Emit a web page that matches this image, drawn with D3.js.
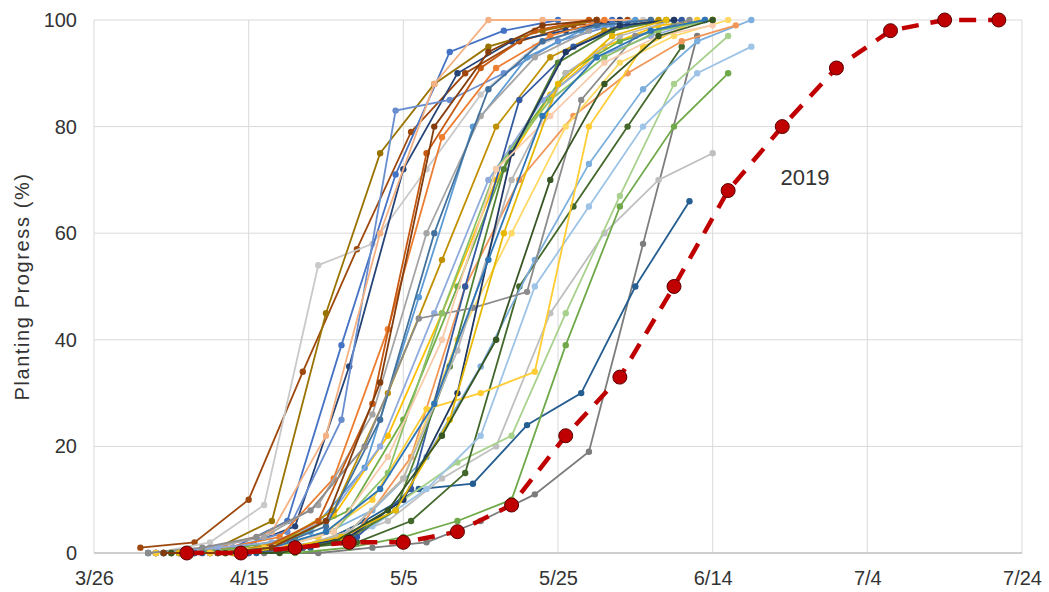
<!DOCTYPE html>
<html>
<head>
<meta charset="utf-8">
<script src="https://cdn.jsdelivr.net/npm/d3@7"></script>
<style>
  body { margin: 0; background: #fff; }
  svg { display: block; font-family: "Liberation Sans", Arial, sans-serif; }
  .grid line { stroke: #d9d9d9; stroke-width: 1; }
</style>
</head>
<body>
<div id="chart"></div>
<script>
// x axis tick labels (every 20 days)
const xTicks = ['3/26', '4/15', '5/5', '5/25', '6/14', '7/4', '7/24'];
const yTicks = [0, 20, 40, 60, 80, 100];

// past years: first report date and weekly planting progress (%)
const pastStart = [
  '4/1', '4/3', '4/4', '4/7', '4/6', '4/6', '4/4', '4/5', '4/5', '4/2',
  '4/7', '4/3', '4/3', '4/2', '4/5', '4/7', '4/7', '4/8', '4/3', '4/3',
  '4/4', '4/8', '4/7', '4/5', '4/4', '4/3', '4/8', '4/6', '4/3', '4/2',
  '4/5', '4/7', '4/7', '4/5', '4/6', '4/4', '4/5', '4/4'
];
const pastValues = [
  [1, 2, 10, 34, 57, 79, 90, 96, 99, 100],
  [0, 2, 9, 54, 58, 72, 86, 95, 99, 100],
  [0, 1, 6, 45, 75, 88, 95, 98, 100],
  [0, 1, 5, 35, 72, 90, 96, 98, 100],
  [0, 1, 6, 39, 71, 94, 98, 100, 100],
  [0, 1, 4, 25, 83, 85, 90, 96, 99],
  [0, 1, 4, 22, 60, 88, 100, 100, 100, 100],
  [0, 1, 3, 14, 42, 78, 91, 97, 100],
  [0, 0, 2, 7, 22, 45, 70, 86, 95, 99, 100],
  [0, 0, 1, 4, 16, 48, 80, 93, 98, 100],
  [0, 1, 3, 8, 25, 50, 76, 90, 96, 99],
  [0, 1, 3, 9, 26, 60, 82, 93, 98],
  [0, 0, 0, 0, 1, 2, 6, 11, 19, 58, 97],
  [0, 0, 0, 1, 6, 12, 13, 24, 30, 50, 66],
  [0, 0, 1, 2, 6, 14, 20, 45, 60, 70, 75],
  [0, 0, 0, 1, 3, 6, 10, 39, 65, 80, 90],
  [0, 0, 1, 3, 10, 17, 22, 45, 67, 88, 97],
  [0, 0, 1, 2, 6, 15, 50, 65, 80, 95],
  [0, 0, 1, 2, 5, 12, 22, 50, 65, 80, 90, 95],
  [0, 0, 1, 3, 8, 18, 35, 55, 73, 87, 96, 100],
  [0, 1, 2, 6, 20, 45, 70, 85, 93, 97, 100],
  [0, 0, 1, 4, 18, 50, 70, 82, 90, 96, 99],
  [0, 0, 1, 4, 14, 40, 60, 80, 92, 97, 100],
  [0, 0, 2, 8, 30, 55, 80, 93, 98, 100],
  [0, 0, 1, 5, 25, 60, 87, 96, 99, 100],
  [0, 0, 1, 6, 28, 75, 91, 98, 100],
  [0, 0, 1, 3, 12, 50, 85, 95, 99, 100],
  [0, 0, 1, 2, 8, 35, 72, 92, 98, 100],
  [0, 0, 1, 3, 10, 27, 30, 34, 80, 95, 100],
  [0, 1, 3, 8, 20, 44, 46, 49, 85, 97, 100],
  [0, 0, 1, 4, 15, 45, 72, 85, 93, 98, 100],
  [0, 0, 1, 4, 14, 38, 70, 90, 97, 100],
  [0, 0, 1, 3, 10, 30, 75, 94, 99, 100],
  [0, 0, 1, 4, 18, 40, 72, 82, 92, 97, 99],
  [0, 0, 1, 3, 8, 25, 60, 88, 97, 100],
  [0, 0, 1, 4, 12, 28, 55, 82, 93, 98, 100],
  [0, 0, 0, 2, 8, 22, 40, 70, 88, 97, 100],
  [0, 0, 1, 6, 32, 80, 94, 99, 100]
];
const pastColors = [
  '#9e480e', '#c9c9c9', '#997300', '#264478', '#4472c4', '#698ed0', '#f4b183', '#ed7d31', '#ffc000', '#5b9bd5',
  '#70ad47', '#a5a5a5', '#7c7c7c', '#255e91', '#bfbfbf', '#6fa94a', '#a9d18e', '#43682b', '#9dc3e6', '#7cafdd',
  '#8faadc', '#f1975a', '#ffd966', '#bf9000', '#41719c', '#c65911', '#335aa1', '#548235', '#ffcd33', '#8c8c8c',
  '#8cc168', '#b7b7b7', '#203864', '#f8cbad', '#e6b800', '#2e75b6', '#375623', '#843c0c'
];

// 2019
const start2019 = '4/7';
const values2019 = [0, 0, 1, 2, 2, 4, 9, 22, 33, 50, 68, 80, 91, 98, 100, 100];

const width = 1049, height = 592;
const margin = {top: 20, right: 27, bottom: 39, left: 94};
const fontFamily = '"Liberation Sans", Arial, sans-serif';

const parse = d3.utcParse('%m/%d');

const svg = d3.select('#chart').append('svg')
  .attr('width', width)
  .attr('height', height);

const x = d3.scaleUtc()
  .domain([parse(xTicks[0]), parse(xTicks[xTicks.length - 1])])
  .range([margin.left, width - margin.right]);

const y = d3.scaleLinear()
  .domain([0, 100])
  .range([height - margin.bottom, margin.top]);

// Gridlines
const grid = svg.append('g').attr('class', 'grid');
grid.selectAll('.hg').data(yTicks.filter(d => d > 0)).enter().append('line')
  .attr('x1', x.range()[0]).attr('x2', x.range()[1])
  .attr('y1', d => y(d)).attr('y2', d => y(d));
grid.selectAll('.vg').data(xTicks).enter().append('line')
  .attr('x1', d => x(parse(d))).attr('x2', d => x(parse(d)))
  .attr('y1', y(0)).attr('y2', y(100));

// Axis line at 0
svg.append('line')
  .attr('x1', x.range()[0]).attr('x2', x.range()[1])
  .attr('y1', y(0)).attr('y2', y(0))
  .attr('stroke', '#bfbfbf').attr('stroke-width', 1.5);

// Y axis
const yAxis = svg.append('g')
  .attr('transform', 'translate(' + margin.left + ',0)')
  .call(d3.axisLeft(y).tickValues(yTicks).tickSize(0).tickPadding(17));
yAxis.select('.domain').remove();
yAxis.selectAll('text').attr('fill', '#333')
  .style('font-size', '20px').style('font-family', fontFamily);

// X axis
const xAxis = svg.append('g')
  .attr('transform', 'translate(0,' + y(0) + ')')
  .call(d3.axisBottom(x).tickValues(xTicks.map(parse)).tickFormat(d3.utcFormat('%-m/%-d')).tickSize(0).tickPadding(18));
xAxis.select('.domain').remove();
xAxis.selectAll('text').attr('fill', '#333')
  .style('font-size', '20px').style('font-family', fontFamily);

// Y title
svg.append('text')
  .attr('transform', 'translate(29,' + ((y(0) + y(100)) / 2) + ') rotate(-90)')
  .attr('text-anchor', 'middle')
  .attr('fill', '#333')
  .style('font-size', '20px')
  .style('letter-spacing', '1.6px')
  .text('Planting Progress (%)');

function toPoints(startStr, vals) {
  const s = parse(startStr);
  return vals.map((v, i) => ({date: d3.utcDay.offset(s, 7 * i), value: v}));
}

const line = d3.line()
  .x(d => x(d.date))
  .y(d => y(d.value));

// Past years
pastValues.forEach((vals, i) => {
  const pts = toPoints(pastStart[i], vals);
  const c = pastColors[i % pastColors.length];
  const g = svg.append('g');
  g.append('path').datum(pts)
    .attr('d', line)
    .attr('fill', 'none')
    .attr('stroke', c)
    .attr('stroke-width', 1.8);
  g.selectAll('circle').data(pts).enter().append('circle')
    .attr('cx', d => x(d.date))
    .attr('cy', d => y(d.value))
    .attr('r', 3.2)
    .attr('fill', c);
});

// 2019
const pts2019 = toPoints(start2019, values2019);
svg.append('path').datum(pts2019)
  .attr('d', line)
  .attr('fill', 'none')
  .attr('stroke', '#c00000')
  .attr('stroke-width', 4.5)
  .attr('stroke-dasharray', '17,12');
svg.selectAll('.p2019').data(pts2019).enter().append('circle')
  .attr('class', 'p2019')
  .attr('cx', d => x(d.date))
  .attr('cy', d => y(d.value))
  .attr('r', 7)
  .attr('fill', '#c00000')
  .attr('stroke', '#5a0000')
  .attr('stroke-width', 1);

svg.append('text')
  .attr('x', 805)
  .attr('y', 185)
  .attr('text-anchor', 'middle')
  .attr('fill', '#333')
  .style('font-size', '22px')
  .text('2019');
</script>
</body>
</html>
